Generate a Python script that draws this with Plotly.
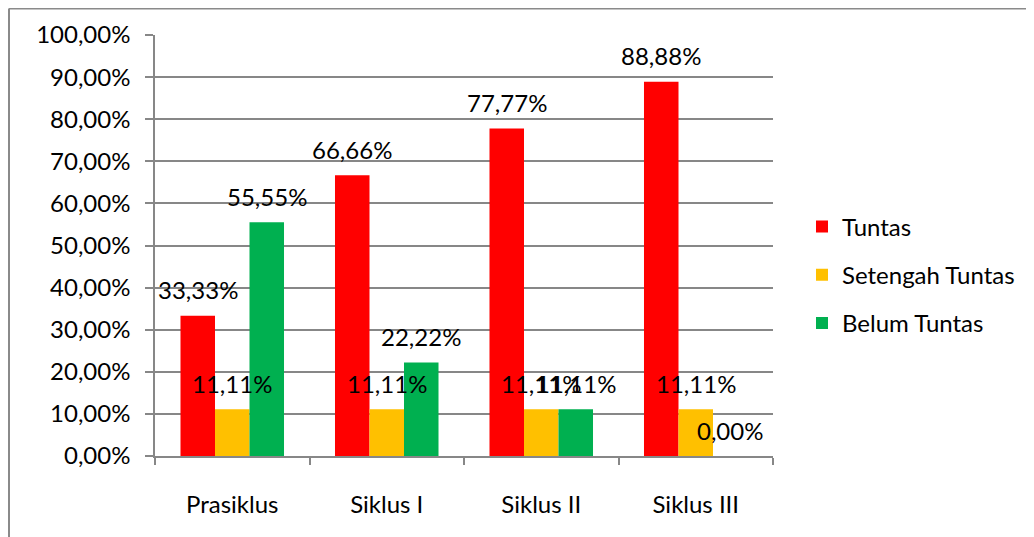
import plotly.graph_objects as go

categories = ["Prasiklus", "Siklus I", "Siklus II", "Siklus III"]
series_names = ["Tuntas", "Setengah Tuntas", "Belum Tuntas"]
tuntas = [33.33, 66.66, 77.77, 88.88]
setengah = [11.11, 11.11, 11.11, 11.11]
belum = [55.55, 22.22, 11.11, 0.00]
colors = ["#FF0000", "#FFC000", "#00B050"]
y_ticks = [0, 10, 20, 30, 40, 50, 60, 70, 80, 90, 100]
y_ticktext = [f"{v:.2f}%".replace(".", ",") for v in y_ticks]

# page body has an 8px margin, so the figure is 8px smaller
W, H = 1026, 529
L, T = 147, 27
plot_w, plot_h = 618, 421
R = W - L - plot_w
B = H - T - plot_h
bargap = 0.33
bar_w = plot_w / len(categories) * (1 - bargap) / 3

FONT = "Lato"
FS = 24
fig = go.Figure()
all_vals = [tuntas, setengah, belum]
for i, (name, vals) in enumerate(zip(series_names, all_vals)):
    fig.add_trace(go.Bar(
        x=categories, y=vals, name=name,
        marker=dict(color=colors[i], line=dict(width=0)),
        legendgroup=name,
    ))
    for c, v in zip(categories, vals):
        fig.add_annotation(
            x=c, y=v, xref="x", yref="y",
            text=f"{v:.2f}%".replace(".", ","),
            showarrow=False, xshift=(i - 1) * bar_w, yshift=26,
            font=dict(family=FONT, size=FS, color="#000000"),
        )

grid = "#878787"
fig.update_layout(
    width=W, height=H,
    margin=dict(l=L, r=R, t=T, b=B, autoexpand=False),
    paper_bgcolor="white", plot_bgcolor="white",
    barmode="group", bargap=bargap, bargroupgap=0,
    font=dict(family=FONT, size=FS, color="#000000"),
    showlegend=True,
    legend=dict(x=(794 - L) / plot_w, xanchor="left",
                y=(T + plot_h - 267) / plot_h, yanchor="middle",
                font=dict(family=FONT, size=FS, color="#000000"),
                tracegroupgap=14, bgcolor="rgba(0,0,0,0)"),
    xaxis=dict(showgrid=False, showline=True, linecolor=grid, linewidth=1.5,
               ticks="outside", ticklen=7, tickcolor=grid, tickwidth=1.5,
               tickson="boundaries", ticklabelstandoff=26,
               tickfont=dict(family=FONT, size=FS)),
    yaxis=dict(range=[0, 100], tickmode="array", tickvals=y_ticks, ticktext=y_ticktext,
               showgrid=True, gridcolor=grid, gridwidth=1.5,
               showline=True, linecolor=grid, linewidth=1.5,
               ticks="outside", ticklen=8, tickcolor=grid, tickwidth=1.5,
               ticklabelstandoff=10,
               zeroline=False, tickfont=dict(family=FONT, size=FS)),
    shapes=[
        dict(type="line", xref="paper", yref="paper",
             x0=(1 - L) / plot_w, x1=(W + 5 - L) / plot_w,
             y0=(T + plot_h - 0.5) / plot_h, y1=(T + plot_h - 0.5) / plot_h,
             line=dict(color="#8a8a8a", width=2)),
        dict(type="line", xref="paper", yref="paper",
             x0=(1 - L) / plot_w, x1=(1 - L) / plot_w,
             y0=(T + plot_h - 0.5) / plot_h, y1=-(B + 5) / plot_h,
             line=dict(color="#8a8a8a", width=2)),
    ],
)
fig.write_html("out.html")
